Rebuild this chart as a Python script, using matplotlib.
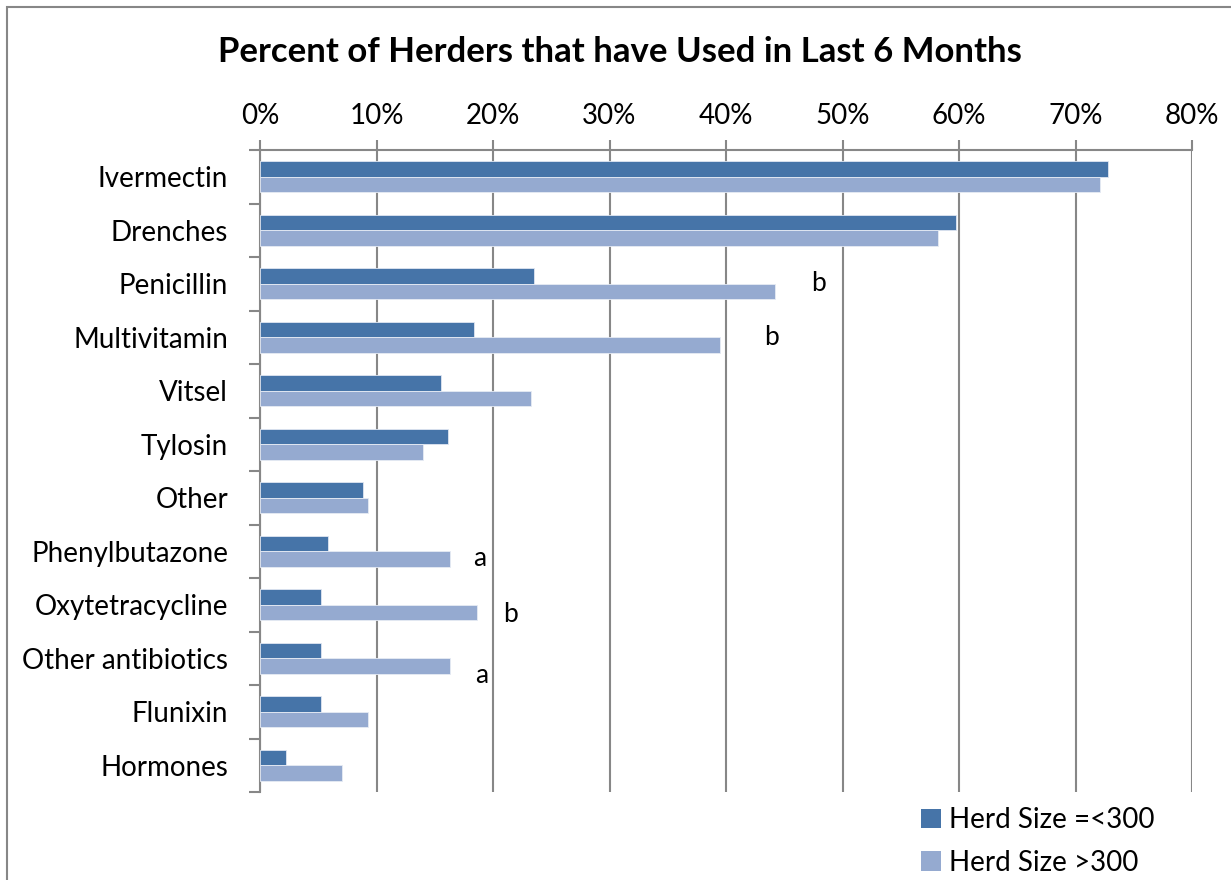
import matplotlib
matplotlib.use("Agg")
import matplotlib.pyplot as plt
import numpy as np
from matplotlib.patches import Rectangle, Patch
from matplotlib.ticker import FixedLocator, PercentFormatter

# ------------------------------------------------------------
# DATA
# ------------------------------------------------------------
drugs = ["Ivermectin", "Drenches", "Penicillin", "Multivitamin", "Vitsel",
         "Tylosin", "Other", "Phenylbutazone", "Oxytetracycline",
         "Other antibiotics", "Flunixin", "Hormones"]
small_herd = [72.8, 59.7, 23.5, 18.4, 15.5, 16.1, 8.8, 5.8, 5.2, 5.2, 5.2, 2.2]
large_herd = [72.1, 58.2, 44.2, 39.5, 23.3, 14.0, 9.3, 16.3, 18.6, 16.3, 9.3, 7.0]

# significance letters: (category, letter, x in %, y offset in category units)
sig_cat = ["Penicillin", "Multivitamin", "Phenylbutazone", "Oxytetracycline", "Other antibiotics"]
sig_letter = ["b", "b", "a", "b", "a"]
sig_x = [47.9, 43.9, 18.9, 21.5, 19.0]
sig_dy = [0.0, 0.0, 0.13, 0.18, 0.32]

series_labels = ["Herd Size =<300", "Herd Size >300"]
dark_blue = "#4674A8"
light_blue = "#95AAD0"
grid_gray = "#878787"

plt.rcParams['font.family'] = ['Lato', 'DejaVu Sans']

fig = plt.figure(figsize=(12.31, 8.8), dpi=100)
ax = fig.add_axes([260 / 1231, 1 - 792 / 880, 932 / 1231, 642 / 880])

# outer chart border
fig.patches.append(Rectangle((7 / 1231, -0.1), 1.2, 1.1 - 7 / 880,
                             transform=fig.transFigure, fill=False,
                             edgecolor=grid_gray, linewidth=1.5))

y = np.arange(len(drugs))
h = 0.29
ax.barh(y - h / 2, small_herd, height=h, color=dark_blue, edgecolor="#dfe6f1",
        linewidth=0.6, zorder=3)
ax.barh(y + h / 2, large_herd, height=h, color=light_blue, edgecolor="#e6ebf4",
        linewidth=0.6, zorder=3)

for cat, letter, lx, dy in zip(sig_cat, sig_letter, sig_x, sig_dy):
    ax.text(lx, drugs.index(cat) + dy, letter, fontsize=19, ha="center",
            va="center", zorder=4)

ax.set_xlim(0, 80)
ax.set_ylim(len(drugs) - 0.5, -0.5)
ax.xaxis.tick_top()
ax.set_xticks(np.arange(0, 81, 10))
ax.xaxis.set_major_formatter(PercentFormatter(decimals=0))
ax.tick_params(axis="x", which="major", length=7, width=1.5, color=grid_gray,
               labelsize=20, pad=8)
ax.grid(axis="x", color=grid_gray, linewidth=1.5, zorder=0)

ax.set_yticks(y)
ax.set_yticklabels(drugs)
ax.yaxis.set_minor_locator(FixedLocator(np.arange(-0.5, len(drugs), 1)))
ax.tick_params(axis="y", which="major", length=0, labelsize=20, pad=23)
ax.tick_params(axis="y", which="minor", length=8, width=1.5, color=grid_gray)

for side in ["bottom", "right"]:
    ax.spines[side].set_visible(False)
for side in ["top", "left"]:
    ax.spines[side].set_color(grid_gray)
    ax.spines[side].set_linewidth(1.5)

fig.text(620 / 1231, 1 - 52 / 880, "Percent of Herders that have Used in Last 6 Months",
         ha="center", va="center", fontsize=25, fontweight="bold")

handles = [Patch(facecolor=dark_blue, label=series_labels[0]),
           Patch(facecolor=light_blue, label=series_labels[1])]
fig.legend(handles=handles, loc="upper left", bbox_to_anchor=(910 / 1231, 1 - 796 / 880),
           frameon=False, fontsize=20, handlelength=0.7, handleheight=0.7,
           handletextpad=0.3, labelspacing=0.6, borderaxespad=0)

fig.savefig("out.png", dpi=100)
